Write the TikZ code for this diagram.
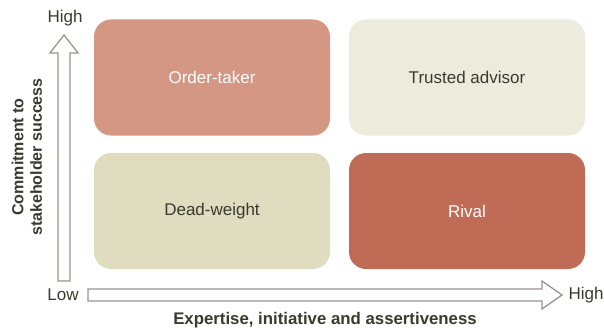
\documentclass[tikz,border=0pt]{standalone}
\usepackage{fontspec}
\setmainfont{Liberation Sans}
\usetikzlibrary{positioning}
\definecolor{ordc}{HTML}{D49783}
\definecolor{trc}{HTML}{EDEBDB}
\definecolor{ddc}{HTML}{DFDCBF}
\definecolor{rvc}{HTML}{BF6B55}
\definecolor{axc}{HTML}{9A958C}
\definecolor{txc}{HTML}{3A3A30}
\begin{document}
\begin{tikzpicture}[x=1pt,y=-1pt,
  quad/.style={rounded corners=17pt, minimum width=236pt, minimum height=116pt, inner sep=0pt, font=\fontsize{17}{20}\selectfont},
  axarrow/.style={draw=axc, line width=1.3pt, fill=white, line join=miter},
  axlabel/.style={font=\fontsize{17}{20}\selectfont, text=txc, inner sep=0pt},
  axtitle/.style={font=\fontsize{16.8}{19}\selectfont\bfseries, text=txc, inner sep=0pt, align=center}]
\useasboundingbox (0,0) rectangle (604,329);
\node[quad, fill=ordc, text=white] (ot) at (212,77.5) {Order-taker};
\node[quad, fill=trc, text=txc] (ta) at (467,77.5) {Trusted advisor};
\node[quad, fill=ddc, text=txc] (dw) at (212,211) {Dead-weight};
\node[quad, fill=rvc, text=white] (rv) at (467,211) {Rival};
% vertical arrow
\draw[axarrow] (58,281) -- (58,53) -- (50,53) -- (64,35) -- (78,53) -- (70,53) -- (70,281) -- cycle;
% horizontal arrow
\draw[axarrow] (88,289) -- (542,289) -- (542,281) -- (562,295) -- (542,309) -- (542,301) -- (88,301) -- cycle;
\node[axlabel] (hv) at (65,18) {High};
\node[axlabel] (lo) at (63,295) {Low};
\node[axlabel] (hh) at (586,295) {High};
\node[axtitle] (xt) at (325,320) {Expertise, initiative and assertiveness};
\node[axtitle, rotate=90, font=\fontsize{16}{18.5}\selectfont\bfseries] (yt) at (27,157) {Commitment to\\stakeholder success};
\end{tikzpicture}
\end{document}
